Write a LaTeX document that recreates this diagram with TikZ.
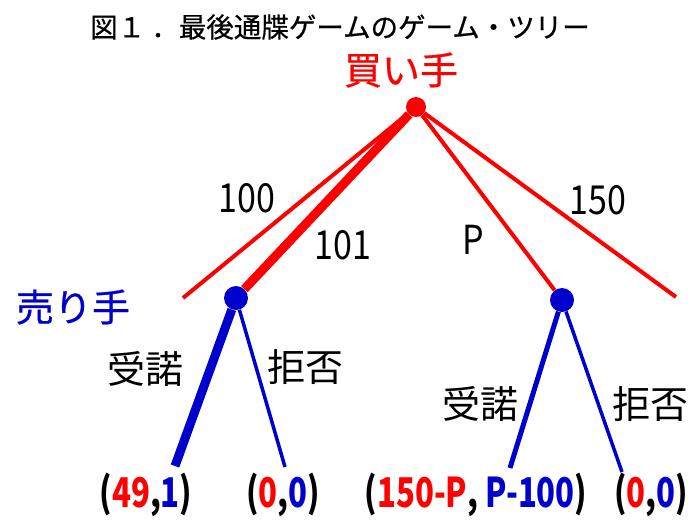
\documentclass[tikz,border=0pt]{standalone}
\usepackage{fontspec}
\usepackage{graphicx}
\setmainfont{Noto Sans CJK JP}
\newfontfamily\titlefont[FakeBold=0.6]{Noto Sans CJK JP}
\definecolor{myred}{RGB}{255,0,0}
\definecolor{myblue}{RGB}{0,0,204}
\newcommand{\fsz}[1]{\fontsize{#1}{#1}\selectfont}
\newcommand{\narrow}[1]{\scalebox{0.76}[1]{#1}}
\newcommand{\semi}[1]{\scalebox{0.85}[1]{#1}}
\tikzset{
  buyer/.style={circle,fill=myred,inner sep=0pt,minimum size=20pt},
  seller/.style={circle,fill=myblue,inner sep=0pt,minimum size=24pt},
  redline/.style={draw=myred,line width=4pt},
  blueline/.style={draw=myblue,line width=3.5pt},
  branch/.style={font=\fsz{40}},
  act/.style={font=\fsz{38}},
  payoff/.style={font=\fsz{41}\bfseries},
}
\begin{document}
\begin{tikzpicture}[x=1pt,y=-1pt]
\useasboundingbox (0,0) rectangle (691,520);
\node[font=\titlefont\fsz{27.5}] (title) at (340,27) {図１ ．最後通牒ゲームのゲーム・ツリー};
\node[font=\titlefont\fsz{38},text=myred] (buyerlbl) at (401,70) {買い手};
\node[buyer] (root) at (416,107) {};
\node[seller] (s1) at (236,298) {};
\node[seller] (s2) at (562,300) {};
\coordinate (c100) at (183,298);
\coordinate (c150) at (676,297);
\coordinate (a1) at (175,466);
\coordinate (r1) at (285,467);
\coordinate (a2) at (510,468);
\coordinate (r2) at (622,472);
\draw[redline] (root) -- (c100);
\draw[redline] (root) -- (c150);
\draw[redline,line width=9pt] (root) -- (s1);
\draw[redline] (root) -- (s2);
\draw[blueline,line width=9pt] (s1) -- (a1);
\draw[blueline] (s1) -- (r1);
\draw[blueline,line width=5pt] (s2) -- (a2);
\draw[blueline] (s2) -- (r2);
\node[branch] (l100) at (247,198) {\semi{100}};
\node[branch] (l101) at (343,245) {\semi{101}};
\node[branch] (lP) at (473,240) {\semi{P}};
\node[branch] (l150) at (598,200) {\semi{150}};
\node[act,font=\titlefont\fsz{38},text=myblue] (sellerlbl) at (73,307) {売り手};
\node[act] (acc1) at (145,369) {受諾};
\node[act] (rej1) at (305,367) {拒否};
\node[act] (acc2) at (480,404) {受諾};
\node[act] (rej2) at (650,404) {拒否};
\node[payoff] (p1) at (146,495) {\narrow{(\textcolor{myred}{49},\textcolor{myblue}{1})}};
\node[payoff] (p2) at (283,495) {\narrow{(\textcolor{myred}{0},\textcolor{myblue}{0})}};
\node[payoff] (p3) at (476,495) {\narrow{(\textcolor{myred}{150-P}, \textcolor{myblue}{P-100})}};
\node[payoff] (p4) at (651,495) {\narrow{(\textcolor{myred}{0},\textcolor{myblue}{0})}};
\end{tikzpicture}
\end{document}
